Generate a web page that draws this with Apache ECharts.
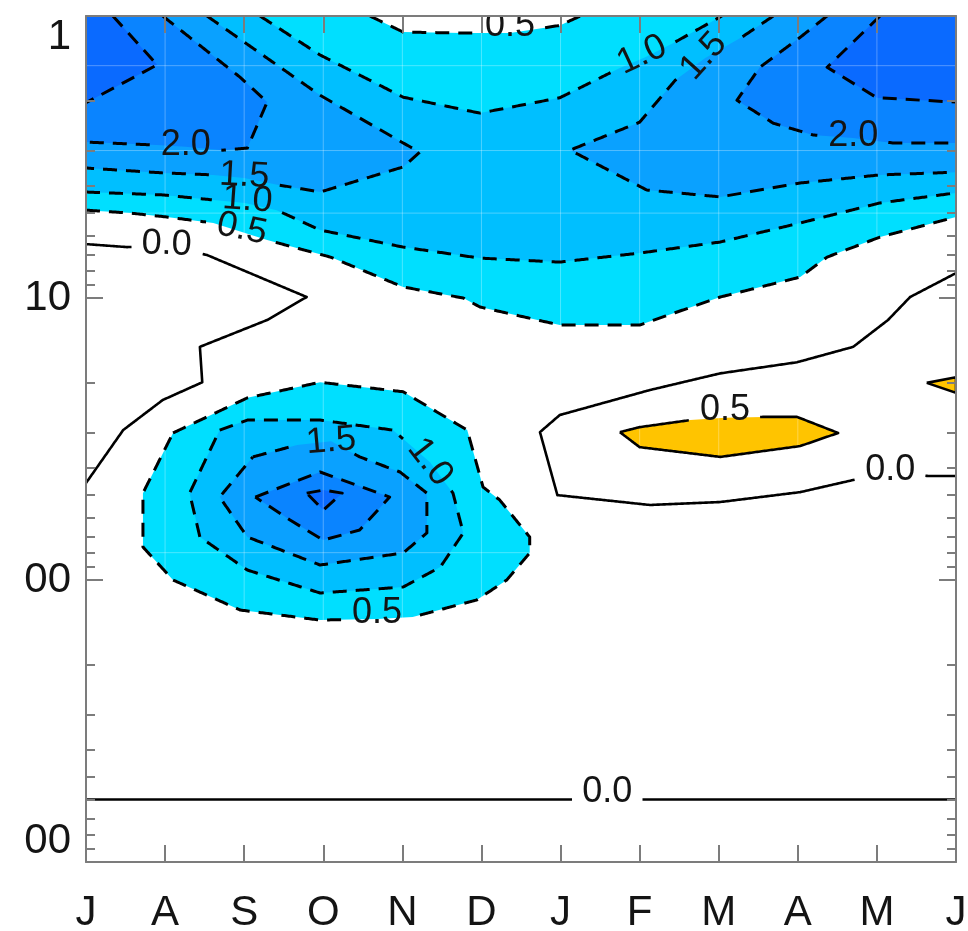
<!DOCTYPE html>
<html>
<head>
<meta charset="utf-8">
<script src="https://cdn.jsdelivr.net/npm/echarts@6/dist/echarts.min.js"></script>
<style>
  html, body { margin: 0; padding: 0; background: #ffffff; }
  #chart { width: 968px; height: 931px; }
</style>
</head>
<body>
<div id="chart"></div>
<script>
// Time axis: July .. June (month index 0..11)
const months = ['J', 'A', 'S', 'O', 'N', 'D', 'J', 'F', 'M', 'A', 'M', 'J'];
// Pressure axis (hPa, log scale)
const pressureTicks = [1, 10, 100, 1000];
const pressureTickLabels = ['1', '10', '00', '00'];
const pressureMinorTicks = [2, 3, 4, 5, 6, 7, 8, 9, 20, 30, 40, 50, 60, 70, 80, 90,
                            200, 300, 400, 500, 600, 700, 800, 900];
// Levels of the analysis grid rows (hPa)
const gridLevels = [1.5, 3, 5, 80];

// Contour paths, points are [month index, pressure hPa]
// Upper (stratospheric) anomaly
const strat05Top = [[3.59, 1], [4.01, 1.14], [4.77, 1.15], [5.36, 1.15], [5.99, 1.08], [6.25, 1]];
const strat05 = [[0, 4.88], [0.56, 5.0], [1.02, 5.16], [1.61, 5.42], [2.29, 6.23], [3.09, 7.16],
                 [4.01, 9.14], [4.77, 10.0], [4.98, 10.76], [5.99, 12.47], [7.0, 12.47], [8.02, 9.92],
                 [9.03, 8.43], [9.37, 7.16], [10.04, 6.08], [11, 5.16]];
const strat10Upper = [[2.20, 1], [2.96, 1.375], [4.01, 1.94], [4.98, 2.21], [5.99, 1.95], [6.75, 1.53],
                      [7.07, 1.40], [7.42, 1.25], [8.04, 1]];
const strat10Lower = [[0, 4.21], [0.97, 4.31], [1.61, 4.49], [2.01, 4.60], [2.41, 4.88], [2.96, 5.74],
                      [4.01, 6.60], [4.98, 7.22], [5.99, 7.46], [7.0, 6.93], [8.02, 6.33], [9.03, 5.42],
                      [10.04, 4.60], [11, 4.24]];
const strat15W = [[1.53, 1], [2.96, 1.91], [4.01, 2.82], [4.22, 3.04], [4.01, 3.43], [2.96, 4.21],
                  [2.45, 3.98], [2.0, 3.75], [1.61, 3.66], [0.97, 3.60], [0, 3.46]];
const strat15E = [[8.69, 1], [8.29, 1.19], [7.83, 1.41], [7.45, 1.69], [7.0, 2.38], [6.12, 2.99],
                  [7.09, 4.14], [8.02, 4.38], [9.03, 3.91], [10.04, 3.66], [11, 3.58]];
const strat20W = [[0.97, 1], [1.95, 1.65], [2.29, 2.02], [2.04, 2.94], [1.73, 2.99], [1.26, 2.91],
                  [0.90, 2.87], [0, 2.80]];
const strat20E = [[9.37, 1], [9.03, 1.19], [8.52, 1.52], [8.23, 1.99], [8.69, 2.40], [9.19, 2.64],
                  [9.70, 2.71], [10.20, 2.82], [11, 2.82]];
const strat25W = [[0.34, 1], [0.90, 1.49], [0, 2.03]];
const strat25E = [[10.04, 1], [9.37, 1.52], [10.0, 1.95], [11, 2.02]];

// Lower (autumn) anomaly, closed rings
const trop05 = [[1.10, 30.1], [2.04, 22.6], [2.96, 19.9], [4.01, 21.5], [4.82, 29.4], [5.02, 46.8],
                [5.23, 52.0], [5.61, 70.4], [5.61, 80.2], [5.32, 100], [4.94, 117.7], [4.13, 135.3],
                [3.68, 137.5], [2.96, 138.7], [1.95, 127.8], [1.10, 100], [0.72, 76.4], [0.72, 49.2]];
const trop10 = [[1.69, 29.4], [2.04, 27.1], [2.96, 27.1], [3.88, 29.4], [4.35, 38.2], [4.64, 49.2],
                [4.77, 68.1], [4.48, 90.0], [4.01, 105.9], [2.96, 111.2], [2.04, 92.2], [1.44, 70.4],
                [1.31, 49.2]];
const trop15 = [[2.11, 36.6], [2.67, 33.2], [3.10, 32.2], [3.46, 36.6], [3.97, 41.4], [4.31, 49.2],
                [4.31, 68.1], [4.01, 80.2], [2.96, 88.5], [2.04, 70.4], [1.69, 50.8]];
const trop20 = [[2.14, 50.8], [2.96, 41.4], [3.84, 50.8], [3.46, 66.5], [3.0, 72.2], [2.58, 61.3]];
const trop25 = [[2.79, 49.2], [3.0, 48.0], [3.24, 49.2], [3.0, 56.5]];

// Zero and positive contours
const zeroW = [[0, 6.44], [0.52, 6.60], [1.02, 6.54], [1.53, 7.04], [2.79, 9.92], [2.29, 11.97],
               [1.44, 14.9], [1.47, 19.9], [0.97, 23.0], [0.47, 29.4], [0, 45.3]];
const zeroE = [[11, 8.16], [10.42, 9.92], [10.14, 11.97], [9.70, 14.9], [8.99, 16.9], [8.02, 18.5],
               [7.13, 21.2], [5.99, 26.0], [5.74, 29.9], [5.96, 50.0], [7.13, 54.2], [8.02, 52.9],
               [9.03, 48.8], [9.70, 44.2], [10.17, 41.4], [10.65, 42.8], [11, 42.8]];
const zeroLow = [[0, 600], [11, 600]];
const pos05 = [[6.75, 29.9], [7.0, 28.7], [7.64, 27.1], [8.08, 26.6], [8.56, 26.4], [8.99, 26.4],
               [9.51, 30.1], [9.03, 33.5], [8.02, 36.6], [7.0, 33.8]];
const pos05Edge = [[10.63, 20.0], [11, 19.1], [11, 21.7]];

// Contour lines with their level
const contours = [
  { level: -0.5, path: strat05Top },
  { level: -0.5, path: strat05 },
  { level: -1.0, path: strat10Upper },
  { level: -1.0, path: strat10Lower },
  { level: -1.5, path: strat15W },
  { level: -1.5, path: strat15E },
  { level: -2.0, path: strat20W },
  { level: -2.0, path: strat20E },
  { level: -2.5, path: strat25W },
  { level: -2.5, path: strat25E },
  { level: -0.5, path: trop05, closed: true },
  { level: -1.0, path: trop10, closed: true },
  { level: -1.5, path: trop15, closed: true },
  { level: -2.0, path: trop20, closed: true },
  { level: -2.5, path: trop25, closed: true },
  { level: 0, path: zeroW },
  { level: 0, path: zeroE },
  { level: 0, path: zeroLow },
  { level: 0.5, path: pos05, closed: true },
  { level: 0.5, path: pos05Edge, closed: true }
];

// Contour labels: which line, anchor [month, hPa], text angle (deg)
const contourLabels = [
  { path: strat20W, at: [1.26, 2.87], angle: 0 },
  { path: strat15W, at: [2.0, 3.69], angle: -3 },
  { path: strat10Lower, at: [2.04, 4.49], angle: -4 },
  { path: strat05, at: [1.97, 5.69], angle: -12 },
  { path: zeroW, at: [1.02, 6.44], angle: -2 },
  { path: strat05Top, at: [5.36, 1.09], angle: 0 },
  { path: strat10Upper, at: [7.03, 1.375], angle: 25 },
  { path: strat15E, at: [7.81, 1.39], angle: 48 },
  { path: strat20E, at: [9.70, 2.67], angle: 0 },
  { path: trop15, at: [3.10, 32.2], angle: 5 },
  { path: trop10, at: [4.35, 38.2], angle: -52 },
  { path: trop05, at: [3.68, 131], angle: 0 },
  { path: pos05, at: [8.08, 25.0], angle: 0 },
  { path: zeroE, at: [10.17, 40.7], angle: 0 },
  { path: zeroLow, at: [6.59, 565], angle: 0 }
];

// Shaded bands (painted from the weakest to the strongest anomaly)
const rev = a => a.slice().reverse();
const bands = [
  { level: -0.5, path: [[0, 1], ...strat05Top, [11, 1], ...rev(strat05)] },
  { level: -1.0, path: [[0, 1], ...strat10Upper, [11, 1], ...rev(strat10Lower)] },
  { level: -1.5, path: [[0, 1], ...strat15W] },
  { level: -1.5, path: [...strat15E, [11, 1]] },
  { level: -2.0, path: [[0, 1], ...strat20W] },
  { level: -2.0, path: [...strat20E, [11, 1]] },
  { level: -2.5, path: [[0, 1], ...strat25W] },
  { level: -2.5, path: [...strat25E, [11, 1]] },
  { level: -0.5, path: trop05 },
  { level: -1.0, path: trop10 },
  { level: -1.5, path: trop15 },
  { level: -2.0, path: trop20 },
  { level: -2.5, path: trop25 },
  { level: 0.5, path: pos05 },
  { level: 0.5, path: pos05Edge }
];

// ---- styling ----
const bandColors = {
  '-0.5': '#00DFFF', '-1': '#00BFFF', '-1.5': '#0AA1FF', '-2': '#0A84FF', '-2.5': '#0A6AFF',
  '0.5': '#FFC400'
};
const FONT = '"Liberation Sans", Arial, sans-serif';
const LABEL_SIZE = 36;
const AXIS_FONT_SIZE = 42;
const AXIS_COLOR = '#7c7c7c';
const TEXT_COLOR = '#141414';

const levelText = lv => Math.abs(lv).toFixed(1);
const levelOf = path => contours.find(c => c.path === path).level;

function textWidth(str, size) {
  let w = 0;
  for (const ch of str) w += (ch === '.' ? 0.278 : 0.556);
  return w * size;
}

function labelBoxes(api, path) {
  return contourLabels.filter(l => l.path === path).map(l => {
    const c = api.coord(l.at);
    const t = l.angle * Math.PI / 180;
    return {
      cx: c[0], cy: c[1], cos: Math.cos(t), sin: Math.sin(t),
      hw: textWidth(levelText(levelOf(path)), LABEL_SIZE) / 2 + 10,
      hh: LABEL_SIZE * 0.4
    };
  });
}

function insideAny(p, boxes) {
  for (const b of boxes) {
    const dx = p[0] - b.cx, dy = p[1] - b.cy;
    const a = dx * b.cos - dy * b.sin;
    const c = dx * b.sin + dy * b.cos;
    if (Math.abs(a) <= b.hw && Math.abs(c) <= b.hh) return true;
  }
  return false;
}

// Break a pixel polyline where it passes under a contour label
function splitAtLabels(px, boxes) {
  if (!boxes.length) return [px];
  const runs = [];
  let cur = [];
  const visit = p => {
    if (insideAny(p, boxes)) {
      if (cur.length > 1) runs.push(cur);
      cur = [];
    } else {
      cur.push(p);
    }
  };
  for (let i = 0; i < px.length - 1; i++) {
    const a = px[i], b = px[i + 1];
    const len = Math.hypot(b[0] - a[0], b[1] - a[1]);
    const n = Math.max(1, Math.ceil(len / 1.5));
    for (let k = 0; k < n; k++) {
      const t = k / n;
      visit([a[0] + (b[0] - a[0]) * t, a[1] + (b[1] - a[1]) * t]);
    }
  }
  visit(px[px.length - 1]);
  if (cur.length > 1) runs.push(cur);
  return runs;
}

const itemAnchor = n => Array.from({ length: n }, () => [0, 1]);

const chart = echarts.init(document.getElementById('chart'), null, { renderer: 'canvas' });

const majorY = (position) => ({
  type: 'log', logBase: 10, min: 1, max: 1000, inverse: true, position: position, offset: 0, z: 10,
  axisLine: { show: true, onZero: false, lineStyle: { color: AXIS_COLOR, width: 2 } },
  axisTick: { show: true, inside: true, length: 17, customValues: pressureTicks,
              lineStyle: { color: AXIS_COLOR, width: 2 } },
  axisLabel: position === 'left' ? {
    show: true, customValues: pressureTicks,
    formatter: v => pressureTickLabels[Math.round(Math.log10(v))],
    fontSize: AXIS_FONT_SIZE, fontFamily: FONT, color: TEXT_COLOR, margin: 15,
    verticalAlignMinLabel: 'top', verticalAlignMaxLabel: 'bottom'
  } : { show: false },
  splitLine: { show: false }, minorTick: { show: false }, minorSplitLine: { show: false }
});
const minorY = (position) => ({
  type: 'log', logBase: 10, min: 1, max: 1000, inverse: true, position: position, offset: 0, z: 10,
  axisLine: { show: false, onZero: false },
  axisTick: { show: true, inside: true, length: 9, customValues: pressureMinorTicks,
              lineStyle: { color: AXIS_COLOR, width: 2 } },
  axisLabel: { show: false }, splitLine: { show: false }
});
const monthX = (position) => ({
  type: 'value', min: 0, max: 11, interval: 1, position: position, offset: 0, z: 10,
  axisLine: { show: true, onZero: false, lineStyle: { color: AXIS_COLOR, width: 2 } },
  axisTick: { show: true, inside: true, length: 17, lineStyle: { color: AXIS_COLOR, width: 2 } },
  axisLabel: position === 'bottom' ? {
    show: true, formatter: v => months[v], fontSize: AXIS_FONT_SIZE, fontFamily: FONT,
    color: TEXT_COLOR, margin: 30
  } : { show: false },
  splitLine: { show: false }
});

chart.setOption({
  animation: false,
  backgroundColor: '#ffffff',
  grid: { left: 86, top: 16, width: 870, height: 846, show: false, containLabel: false, outerBoundsMode: 'none' },
  xAxis: [monthX('bottom'), monthX('top')],
  yAxis: [majorY('left'), minorY('left'), majorY('right'), minorY('right')],
  series: [
    {
      // filled anomaly bands
      type: 'custom', name: 'bands', coordinateSystem: 'cartesian2d', xAxisIndex: 0, yAxisIndex: 0,
      clip: true, silent: true, z: 1,
      data: itemAnchor(bands.length),
      renderItem: (params, api) => {
        const b = bands[params.dataIndex];
        return {
          type: 'polygon',
          shape: { points: b.path.map(p => api.coord(p)) },
          style: { fill: bandColors[String(b.level)], stroke: null }
        };
      }
    },
    {
      // faint rows/columns of the analysis grid showing through the shading
      type: 'custom', name: 'grid', coordinateSystem: 'cartesian2d', xAxisIndex: 0, yAxisIndex: 0,
      clip: true, silent: true, z: 2,
      data: itemAnchor(1),
      renderItem: (params, api) => {
        const children = [];
        for (let m = 1; m < months.length - 1; m++) {
          const a = api.coord([m, 1]), b = api.coord([m, 1000]);
          children.push({ type: 'line', shape: { x1: a[0], y1: a[1], x2: b[0], y2: b[1] },
                          style: { stroke: 'rgba(255,255,255,0.3)', lineWidth: 1 } });
        }
        for (const lv of gridLevels) {
          const a = api.coord([0, lv]), b = api.coord([11, lv]);
          children.push({ type: 'line', shape: { x1: a[0], y1: a[1], x2: b[0], y2: b[1] },
                          style: { stroke: 'rgba(255,255,255,0.3)', lineWidth: 1 } });
        }
        return { type: 'group', children };
      }
    },
    {
      // contour lines: dashed for negative levels, solid for zero/positive
      type: 'custom', name: 'contours', coordinateSystem: 'cartesian2d', xAxisIndex: 0, yAxisIndex: 0,
      clip: true, silent: true, z: 3,
      data: itemAnchor(contours.length),
      renderItem: (params, api) => {
        const c = contours[params.dataIndex];
        const px = c.path.map(p => api.coord(p));
        if (c.closed) px.push(px[0]);
        const runs = splitAtLabels(px, labelBoxes(api, c.path));
        const dashed = c.level < 0;
        return {
          type: 'group',
          children: runs.map(r => ({
            type: 'polyline',
            shape: { points: r },
            style: { stroke: '#000', lineWidth: dashed ? 3 : 2.6, fill: null,
                     lineDash: dashed ? [14, 9] : null, lineJoin: 'round' }
          }))
        };
      }
    },
    {
      // contour value labels
      type: 'custom', name: 'labels', coordinateSystem: 'cartesian2d', xAxisIndex: 0, yAxisIndex: 0,
      clip: true, silent: true, z: 4,
      data: itemAnchor(contourLabels.length),
      renderItem: (params, api) => {
        const l = contourLabels[params.dataIndex];
        const c = api.coord(l.at);
        return {
          type: 'text', x: c[0], y: c[1], rotation: l.angle * Math.PI / 180,
          style: {
            text: levelText(levelOf(l.path)), fill: TEXT_COLOR,
            font: LABEL_SIZE + 'px ' + FONT,
            align: 'center', verticalAlign: 'middle',
            textAlign: 'center', textVerticalAlign: 'middle'
          }
        };
      }
    }
  ]
});
</script>
</body>
</html>
